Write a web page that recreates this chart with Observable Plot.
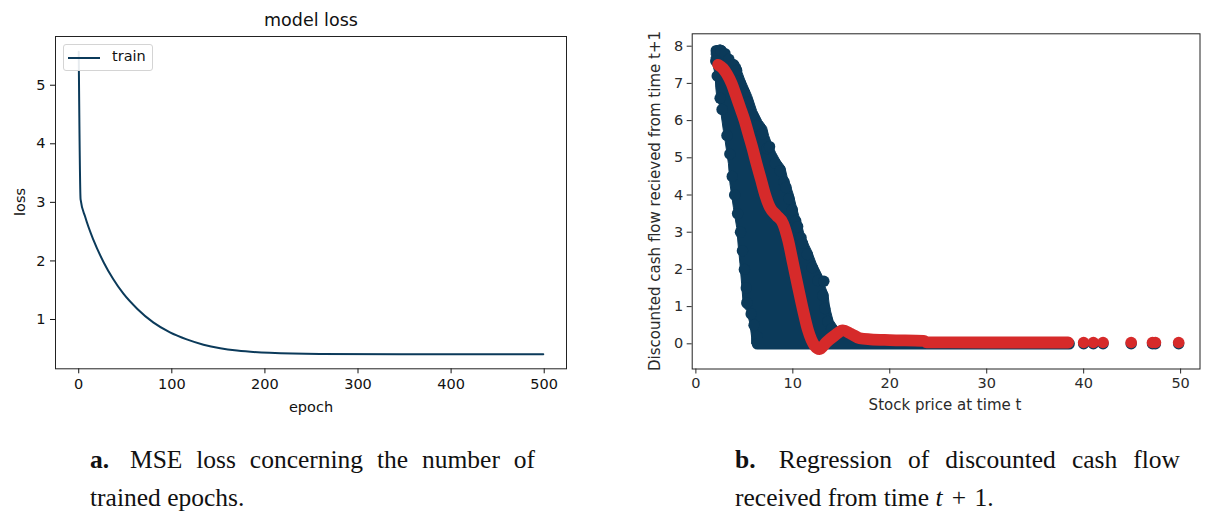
<!DOCTYPE html>
<html>
<head>
<meta charset="utf-8">
<script src="https://cdn.jsdelivr.net/npm/d3@7"></script>
<script src="https://cdn.jsdelivr.net/npm/@observablehq/plot@0.6"></script>
<style>
  html, body { margin: 0; padding: 0; background: #fff; }
  #root { position: relative; width: 1226px; height: 520px; background: #fff; overflow: hidden; }
  .abs { position: absolute; white-space: nowrap; }
  .lbl { font-family: "DejaVu Sans", sans-serif; color: #111; transform: translate(-50%, -50%); }
  .cap { font-family: "Liberation Serif", "Times New Roman", serif; font-size: 25.5px; color: #111; line-height: 38px; }
  .just { text-align: justify; text-align-last: justify; }
</style>
</head>
<body>
<div id="root"></div>
<script>
// ---------- Panel a: model loss ----------
const epochs = [0, 2, 7, 16, 27, 37, 48, 63, 80, 98, 116, 134, 152, 170, 205, 259, 350, 499];
const trainLoss = [5.57, 3.05, 2.75, 2.35, 1.97, 1.69, 1.44, 1.18, 0.95, 0.78, 0.66, 0.57, 0.51, 0.47, 0.43, 0.41, 0.405, 0.405];
const epochTicks = [0, 100, 200, 300, 400, 500];
const lossTicks = [1, 2, 3, 4, 5];

// ---------- Panel b: regression ----------
// outer boundary of the dense dark scatter cloud (stock price, cash flow)
const cloudX = [1.57, 1.64, 2.0, 2.5, 2.9, 3.18, 3.5, 3.87, 4.2, 4.55, 4.75, 5.06, 5.4, 5.75, 6.26, 6.78, 7.29, 7.5, 7.8, 8.2, 8.66, 9.17, 9.4, 9.68, 10.03, 10.37, 10.6, 10.88, 11.1, 11.4, 11.9, 12.42, 13.1, 13.3, 13.62, 13.79, 14.14, 14.6, 15.3, 16.0, 16.9, 16.9,
                5.75, 5.75, 5.58, 5.24, 4.9, 4.72, 4.55, 4.38, 4.21, 3.87, 3.52, 3.36, 3.01, 2.84, 2.5, 2.16, 2.05, 1.98, 1.57];
const cloudY = [7.78, 7.9, 8.0, 8.04, 8.0, 7.9, 7.78, 7.66, 7.6, 7.5, 7.3, 7.08, 6.88, 6.67, 6.27, 6.0, 5.82, 5.6, 5.38, 5.15, 4.93, 4.75, 4.5, 4.3, 4.03, 3.67, 3.45, 3.23, 3.0, 2.78, 2.51, 2.15, 1.79, 1.55, 1.34, 0.98, 0.63, 0.45, 0.45, 0.31, 0.15, 0,
                0, 0.18, 0.54, 0.9, 1.0, 1.61, 2.15, 2.6, 3.13, 3.67, 4.3, 4.84, 5.47, 5.73, 6.36, 6.63, 6.9, 7.26, 7.7];
// individual dark points visible along the edges of the cloud
const edgeX = [2.1, 2.6, 3.0, 3.4, 3.9, 4.2, 4.6, 5.0, 5.35, 5.8, 6.3, 6.85, 7.35, 7.6, 8.2, 8.7, 9.1, 9.3, 9.6, 9.95, 10.3, 10.5, 10.85, 11.0, 11.5, 12.0, 12.6, 13.2, 13.1, 13.3, 13.6, 14.0, 15.0, 15.5,
               2.05, 2.2, 2.5, 2.7, 3.2, 3.5, 3.75, 4.0, 4.3, 4.6, 4.8, 5.0, 5.2, 5.25, 5.7, 6.0, 6.3];
const edgeY = [7.88, 7.88, 7.8, 7.65, 7.5, 7.35, 7.0, 6.75, 6.5, 6.15, 5.85, 5.65, 5.25, 5.3, 4.85, 4.65, 4.35, 4.2, 3.9, 3.6, 3.3, 3.15, 2.85, 2.7, 2.4, 2.05, 1.7, 1.68, 1.3, 0.95, 0.6, 0.4, 0.35, 0.25,
               7.6, 7.2, 6.6, 6.3, 5.6, 5.1, 4.5, 4.0, 3.5, 3.0, 2.5, 2.0, 1.5, 1.1, 0.8, 0.5, 0.2];
// row of dark points at zero cash flow
const rowX = [6.35, 38.5];
const rowY = [0, 0];
const tailX = [40.0, 41.0, 42.0, 44.9, 47.1, 47.4, 49.8];
const tailDarkY = [0, 0, 0, 0, 0, 0, 0];
const tailRedY = [0.035, 0.035, 0.035, 0.035, 0.035, 0.035, 0.035];
// red regression points
const regX = [2.3, 2.8, 3.2, 3.7, 4.1, 4.55, 5.0, 5.41, 5.85, 6.26, 6.7, 7.12, 7.63, 8.32, 9.0, 9.52, 10.03, 10.54, 11.06, 11.57, 12.25, 12.76, 13.45, 14.3, 15.16, 16.0, 16.9, 18.0, 20.0, 23.5, 23.8, 30.0, 38.4];
const regY = [7.5, 7.4, 7.25, 6.99, 6.7, 6.36, 6.02, 5.65, 5.25, 4.84, 4.43, 4.03, 3.67, 3.45, 3.23, 2.78, 2.15, 1.52, 0.9, 0.36, -0.05, -0.14, 0.04, 0.22, 0.36, 0.27, 0.15, 0.12, 0.1, 0.08, 0.04, 0.035, 0.035];
const priceTicks = [0, 10, 20, 30, 40, 50];
const cashTicks = [0, 1, 2, 3, 4, 5, 6, 7, 8];

const navy = "#0b3a5a";
const red = "#d62a2a";

const lossData = epochs.map((e, i) => ({epoch: e, loss: trainLoss[i]}));
const cloud = cloudX.map((x, i) => ({x, y: cloudY[i]}));
const edge = edgeX.map((x, i) => ({x, y: edgeY[i]}));
const row = rowX.map((x, i) => ({x, y: rowY[i]}));
const tailDark = tailX.map((x, i) => ({x, y: tailDarkY[i]}));
const tailRed = tailX.map((x, i) => ({x, y: tailRedY[i]}));
const reg = regX.map((x, i) => ({x, y: regY[i]}));

const root = document.getElementById("root");

function place(node, left, top) {
  const w = document.createElement("div");
  w.className = "abs";
  w.style.left = left + "px";
  w.style.top = top + "px";
  w.appendChild(node);
  root.appendChild(w);
  return w;
}
function text(str, x, y, size, rotate, color) {
  const d = document.createElement("div");
  d.className = "abs lbl";
  d.style.left = x + "px";
  d.style.top = y + "px";
  d.style.fontSize = size + "px";
  if (color) d.style.color = color;
  if (rotate) d.style.transform = "translate(-50%, -50%) rotate(-90deg)";
  d.textContent = str;
  root.appendChild(d);
  return d;
}
const intFmt = d => String(d);

const left = Plot.plot({
  width: 620, height: 420,
  marginLeft: 55, marginRight: 54, marginTop: 36, marginBottom: 51.7,
  style: {fontFamily: "DejaVu Sans", fontSize: "14.5px", color: "#111", background: "transparent", overflow: "visible"},
  x: {domain: [-24.95, 523.95], ticks: epochTicks, tickFormat: intFmt, tickSize: 5, tickPadding: 5, label: null},
  y: {domain: [0.158, 5.832], ticks: lossTicks, tickFormat: intFmt, tickSize: 5, tickPadding: 5, label: null},
  marks: [
    Plot.line(lossData, {x: "epoch", y: "loss", stroke: navy, strokeWidth: 2, curve: "monotone-x"}),
    Plot.frame({stroke: "#222", strokeWidth: 1})
  ]
});
place(left, 0, 0);

const right = Plot.plot({
  width: 606, height: 420,
  marginLeft: 71.7, marginRight: 26.5, marginTop: 33.3, marginBottom: 51.5,
  style: {fontFamily: "DejaVu Sans", fontSize: "14.5px", color: "#2a2a2a", background: "transparent", overflow: "visible"},
  x: {domain: [-0.38, 52.0], ticks: priceTicks, tickFormat: intFmt, tickSize: 5, tickPadding: 4, label: null},
  y: {domain: [-0.677, 8.333], ticks: cashTicks, tickFormat: intFmt, tickSize: 5, tickPadding: 4, label: null},
  marks: [
    Plot.line(cloud, {x: "x", y: "y", fill: navy, stroke: navy, strokeWidth: 1, strokeLinejoin: "round"}),
    Plot.dot(edge, {x: "x", y: "y", r: 5.7, fill: navy}),
    Plot.line(row, {x: "x", y: "y", stroke: navy, strokeWidth: 11.5, strokeLinecap: "round"}),
    Plot.dot(tailDark, {x: "x", y: "y", r: 5.7, fill: navy}),
    Plot.line(reg, {x: "x", y: "y", stroke: red, strokeWidth: 11.8, strokeLinecap: "round", strokeLinejoin: "round", curve: "monotone-x"}),
    Plot.dot(tailRed, {x: "x", y: "y", r: 5.8, fill: red}),
    Plot.frame({stroke: "#222", strokeWidth: 1})
  ]
});
place(right, 620, 0);

// titles and axis labels
text("model loss", 311, 20, 17.5);
text("epoch", 311, 407, 14.5);
text("loss", 20, 202, 14.5, true);
text("Stock price at time t", 945, 405, 15, false, "#2a2a2a");
text("Discounted cash flow recieved from time t+1", 655, 201, 15, true, "#2a2a2a");

// legend
const lg = document.createElement("div");
lg.className = "abs";
Object.assign(lg.style, {left: "63px", top: "44px", width: "88px", height: "25px", border: "1px solid #d4d4d4", borderRadius: "3px", background: "rgba(255,255,255,0.9)"});
const sw = document.createElement("div");
Object.assign(sw.style, {position: "absolute", left: "4px", top: "11.5px", width: "32px", height: "2px", background: navy});
lg.appendChild(sw);
const lt = document.createElement("div");
Object.assign(lt.style, {position: "absolute", left: "48px", top: "3px", fontFamily: "DejaVu Sans", fontSize: "14.5px", color: "#111"});
lt.textContent = "train";
lg.appendChild(lt);
root.appendChild(lg);

// captions
function caption(html, x, y, w, justify) {
  const d = document.createElement("div");
  d.className = "abs cap" + (justify ? " just" : "");
  d.style.left = x + "px";
  d.style.top = y + "px";
  d.style.width = w + "px";
  d.innerHTML = html;
  root.appendChild(d);
}
const sp = "<span style='display:inline-block;width:7px'></span>";
caption("<b>a.</b>" + sp + " MSE loss concerning the number of", 90, 441, 445, true);
caption("trained epochs.", 90, 479, 445, false);
caption("<b>b.</b>" + sp + " Regression of discounted cash flow", 735, 441, 445, true);
caption("received from time <i>t</i><span style='margin:0 2px 0 3px'> +</span> 1.", 735, 479, 445, false);
</script>
</body>
</html>
